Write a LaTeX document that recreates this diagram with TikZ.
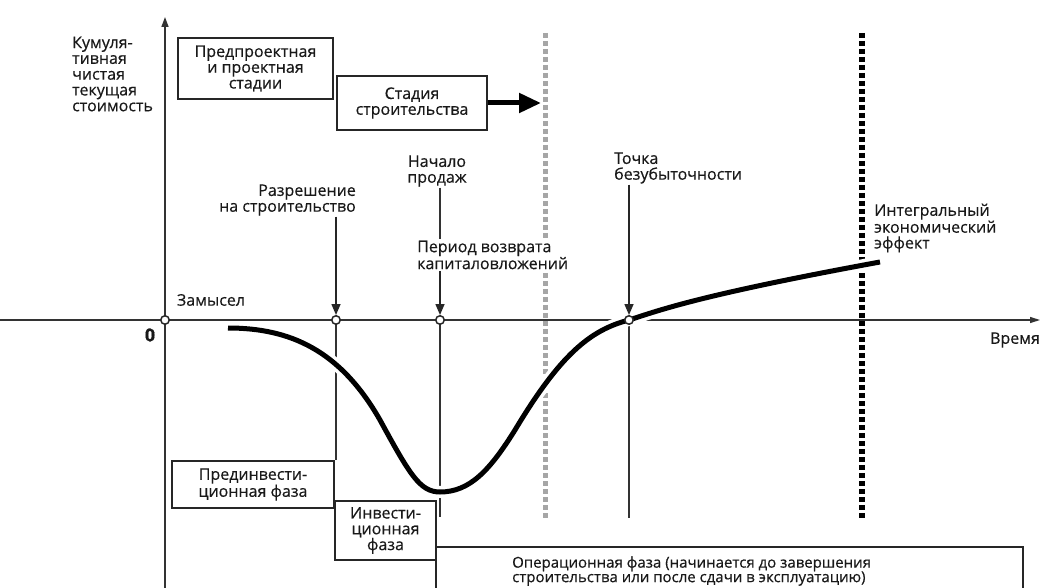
\documentclass[tikz,border=0pt]{standalone}
\usepackage{fontspec}
\setmainfont{Open Sans}[FakeBold=0.4]
\usetikzlibrary{arrows.meta}
\begin{document}
\begin{tikzpicture}[x=1pt,y=-1pt,
  lbl/.style={inner sep=1pt, font=\fontsize{16pt}{15.8pt}\selectfont, text=black!90},
  box/.style={lbl, draw=black!85, line width=1.8pt, inner sep=0pt, align=center},
  axisline/.style={line width=1.5pt, draw=black!80},
  guide/.style={line width=1.4pt, draw=black!80},
  pin/.style={line width=1.5pt, draw=black!85, -{Triangle[length=11pt,width=9pt]}},
  dot/.style={circle, draw=black!85, fill=white, line width=1.5pt, minimum size=8.5pt, inner sep=0pt},
  graydots/.style={line width=5pt, draw=black!35, dash pattern=on 5pt off 3pt},
  blackdots/.style={line width=6pt, draw=black, dash pattern=on 5pt off 3pt},
  curve/.style={line width=5pt, draw=black, preaction={draw=white, line width=12pt}},
]
\useasboundingbox (0,0) rectangle (1042,588);
\fill[white] (0,0) rectangle (1042,588);

% axes
\coordinate (xs) at (0,320);
\coordinate (xe) at (1040,320);
\coordinate (ys) at (165,588);
\coordinate (ye) at (165,17);
\draw[axisline, -{Triangle[length=10pt,width=6pt]}] (xs) -- (xe);
\draw[axisline, -{Triangle[length=10pt,width=7pt]}] (ys) -- (ye);

% point positions
\coordinate (p0) at (165,320);
\coordinate (p1) at (336,320);
\coordinate (p2) at (440,320);
\coordinate (p3) at (629,320);

% boxes
\node[box, minimum width=155pt, minimum height=61pt] (pp) at (255.5,68.5) {Предпроектная\\и проектная\\стадии};
\node[box, minimum width=150pt, minimum height=54pt] (st) at (412,103) {Стадия\\строительства};
\coordinate (stt) at (541,103);
\draw[line width=5pt, -{Triangle[length=22pt,width=19pt]}] (st.east) -- (stt);

\node[box, minimum width=162pt, minimum height=47pt] (pre) at (253,484.5) {Прединвести-\\ционная фаза};
\node[box, minimum width=101pt, minimum height=59pt] (inv) at (385.5,530.5) {Инвести-\\ционная\\фаза};
\node[box, minimum width=587pt, minimum height=60pt] (op) at (729.5,577) {};
\node[lbl, anchor=west, align=left, font=\fontsize{15pt}{14.5pt}\selectfont] (optext) at (511,571) {Операционная фаза (начинается до завершения\\строительства или после сдачи в эксплуатацию)};

% guides below axis
\coordinate (g2) at (440,517);
\coordinate (g3) at (629,518);
\draw[guide] (p1) -- (p1 |- pre.north);
\draw[guide] (p2) -- (g2);
\draw[guide] (p3) -- (g3);

% dotted stage borders
\coordinate (gd1) at (545,33);
\coordinate (gd2) at (545,518);
\coordinate (bd1) at (862,33);
\coordinate (bd2) at (862,518);
\draw[graydots] (gd1) -- (gd2);
\draw[blackdots] (bd1) -- (bd2);

% NPV curve
\draw[curve] (228,328) .. controls (290,328) and (340,350) .. (380,420)
  .. controls (410,475) and (420,492) .. (440,492)
  .. controls (470,492) and (490,470) .. (515,430)
  .. controls (560,355) and (590,330) .. (629,320)
  .. controls (660,310) and (700,295) .. (880,262);

% points
\node[dot] (c0) at (p0) {};
\node[dot] (c1) at (p1) {};
\node[dot] (c2) at (p2) {};
\node[dot] (c3) at (p3) {};

% labels
\node[lbl, anchor=west, align=left] (ylab) at (71,74) {Кумуля-\\тивная\\чистая\\текущая\\стоимость};
\node[lbl, align=center] (nach) at (437,171) {Начало\\продаж};
\node[lbl, anchor=west, align=left, fill=white, inner sep=2pt] (per) at (415,255) {Период возврата\\капиталовложений};
\node[lbl, anchor=east, align=right] (razr) at (357,200) {Разрешение\\на строительство};
\node[lbl, anchor=west, align=left] (toch) at (613,168) {Точка\\безубыточности};
\node[lbl, anchor=west, align=left] (integ) at (873,228) {Интегральный\\экономический\\эффект};
\node[lbl] (vrem) at (1015,340) {Время};
\node[lbl] (zam) at (211,300) {Замысел};
\node[lbl, font=\fontsize{18pt}{18pt}\selectfont\bfseries] (zero) at (150,335) {0};

% pins
\draw[pin] (razr.south -| c1) -- (c1.north);
\draw[guide] (nach.south -| c2) -- (per.north -| c2);
\draw[pin] (per.south -| c2) -- (c2.north);
\draw[pin] (toch.south -| c3) -- (c3.north);
\end{tikzpicture}
\end{document}
